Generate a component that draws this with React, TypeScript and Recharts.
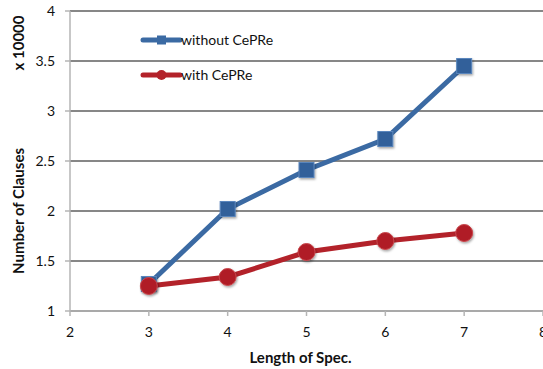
import React from "react";
import {
  LineChart,
  Line,
  XAxis,
  YAxis,
  CartesianGrid,
  Label,
} from "recharts";

const lengths = [3, 4, 5, 6, 7];
const withoutCePRe = [1.27, 2.02, 2.41, 2.72, 3.45];
const withCePRe = [1.25, 1.34, 1.59, 1.7, 1.78];
const xTicks = [2, 3, 4, 5, 6, 7, 8];
const yTicks = [1, 1.5, 2, 2.5, 3, 3.5, 4];

const seriesNames = ["without CePRe", "with CePRe"];
const BLUE = "#3b6aa3";
const RED = "#b3222a";
const FONT = "Lato, 'Open Sans', sans-serif";

const data = lengths.map((len, i) => ({
  len,
  without: withoutCePRe[i],
  with: withCePRe[i],
}));

const SquareDot = (props: any) => {
  const { cx, cy, index } = props;
  if (cx == null || cy == null) return null;
  const s = 15;
  return (
    <rect
      key={`sq-${index}`}
      x={cx - s / 2}
      y={cy - s / 2}
      width={s}
      height={s}
      fill="#33619a"
      stroke="#5a86bd"
      strokeWidth={1}
      filter="url(#dotShadow)"
    />
  );
};

const CircleDot = (props: any) => {
  const { cx, cy, index } = props;
  if (cx == null || cy == null) return null;
  return (
    <circle
      key={`ci-${index}`}
      cx={cx}
      cy={cy}
      r={8.5}
      fill="#b01f27"
      stroke="#c8464c"
      strokeWidth={1}
      filter="url(#dotShadow)"
    />
  );
};

const LegendBox = () => {
  const items = [
    { name: seriesNames[0], color: BLUE, shape: "square" },
    { name: seriesNames[1], color: RED, shape: "circle" },
  ];
  return (
    <svg
      width={220}
      height={60}
      style={{ position: "absolute", left: 143, top: 34, overflow: "visible" }}
    >
      {items.map((it, i) => {
        const cy = 6 + i * 35;
        return (
          <g key={it.name}>
            <line
              x1={0}
              x2={37}
              y1={cy}
              y2={cy}
              stroke={it.color}
              strokeWidth={5}
              strokeLinecap="round"
            />
            {it.shape === "square" ? (
              <rect x={14} y={cy - 4.5} width={9} height={9} fill={it.color} />
            ) : (
              <circle cx={18.5} cy={cy} r={5} fill={it.color} />
            )}
            <text x={38} y={cy + 5} fontFamily={FONT} fontSize={14} fill="#111">
              {it.name}
            </text>
          </g>
        );
      })}
    </svg>
  );
};

const YLabels = (props: any) => {
  const vb = props.viewBox || {};
  const x = 18;
  const top = vb.y != null ? vb.y : 11;
  return (
    <g>
      <text
        x={x}
        y={top + 200}
        transform={`rotate(-90 ${x} ${top + 200})`}
        textAnchor="middle"
        dominantBaseline="central"
        fontFamily={FONT}
        fontWeight="bold"
        fontSize={15}
        fill="#111"
      >
        Number of Clauses
      </text>
      <text
        x={x}
        y={top + 32}
        transform={`rotate(-90 ${x} ${top + 32})`}
        textAnchor="middle"
        dominantBaseline="central"
        fontFamily={FONT}
        fontWeight="bold"
        fontSize={15}
        fill="#111"
      >
        x 10000
      </text>
    </g>
  );
};

export default function App() {
  return (
    <div style={{ position: "absolute", left: 0, top: 0, width: 543, height: 369 }}>
      <style>{"body{margin:0;background:#fff}"}</style>
      <svg width={0} height={0} style={{ position: "absolute" }}>
        <defs>
          <filter id="dotShadow" x="-50%" y="-50%" width="200%" height="200%">
            <feDropShadow
              dx={1}
              dy={1.5}
              stdDeviation={1.2}
              floodColor="#000"
              floodOpacity={0.35}
            />
          </filter>
        </defs>
      </svg>
      <LineChart
        width={543}
        height={369}
        data={data}
        margin={{ top: 11, right: 0, left: 0, bottom: 0 }}
      >
        <CartesianGrid vertical={false} stroke="#111" strokeWidth={1.2} />
        <XAxis
          dataKey="len"
          type="number"
          domain={[2, 8]}
          ticks={xTicks}
          height={58}
          axisLine={{ stroke: "#b5b5b5", strokeWidth: 1.5 }}
          tickLine={{ stroke: "#b5b5b5", strokeWidth: 1.5 }}
          tickSize={5}
          tickMargin={11}
          tick={{ fontFamily: FONT, fontSize: 14, fill: "#111" }}
          interval={0}
        >
          <Label
            value="Length of Spec."
            position="insideBottom"
            offset={6}
            dx={-6}
            style={{
              fontFamily: FONT,
              fontWeight: "bold",
              fontSize: 15,
              fill: "#111",
            }}
          />
        </XAxis>
        <YAxis
          type="number"
          domain={[1, 4]}
          ticks={yTicks}
          width={70}
          axisLine={{ stroke: "#b5b5b5", strokeWidth: 1.5 }}
          tickLine={{ stroke: "#b5b5b5", strokeWidth: 1.5 }}
          tickSize={5}
          tickMargin={10}
          tick={{ fontFamily: FONT, fontSize: 14, fill: "#111" }}
          interval={0}
        >
          <Label content={<YLabels />} />
        </YAxis>
        <Line
          dataKey="without"
          name={seriesNames[0]}
          stroke={BLUE}
          strokeWidth={5}
          dot={<SquareDot />}
          activeDot={false}
          isAnimationActive={false}
        />
        <Line
          dataKey="with"
          name={seriesNames[1]}
          stroke={RED}
          strokeWidth={5}
          dot={<CircleDot />}
          activeDot={false}
          isAnimationActive={false}
        />
      </LineChart>
      <LegendBox />
    </div>
  );
}
